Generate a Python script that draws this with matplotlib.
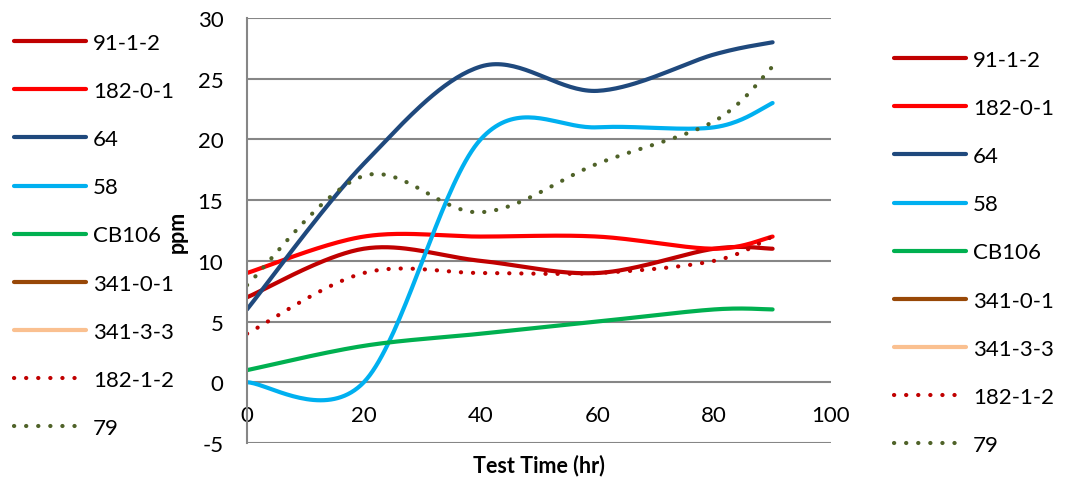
import numpy as np
import matplotlib
matplotlib.use("Agg")
import matplotlib.pyplot as plt

plt.rcParams['font.family'] = ['Lato', 'DejaVu Sans']
plt.rcParams['axes.unicode_minus'] = False

hours = [0, 20, 40, 60, 80, 90]
labels = ["91-1-2", "182-0-1", "64", "58", "CB106", "341-0-1", "341-3-3", "182-1-2", "79"]
s_91_1_2 = [7, 11, 10, 9, 11, 11]
s_182_0_1 = [9, 12, 12, 12, 11, 12]
s_64 = [6, 18, 26, 24, 27, 28]
s_58 = [0, 0, 20, 21, 21, 23]
s_cb106 = [1, 3, 4, 5, 6, 6]
s_341_0_1 = []
s_341_3_3 = []
s_182_1_2 = [4, 9, 9, 9, 10, 12]
s_79 = [8, 17, 14, 18, 21.5, 26]

series = [s_91_1_2, s_182_0_1, s_64, s_58, s_cb106, s_341_0_1, s_341_3_3, s_182_1_2, s_79]
colors = ["#C00000", "#FF0000", "#1F497D", "#00B0F0", "#00B050", "#984807", "#FAC090", "#C00000", "#4F6228"]
dotted = [False] * 7 + [True, True]


def smooth(xs, ys, n=40):
    # bezier segments with control points from neighbouring points
    if len(xs) < 2:
        return np.array(xs, float), np.array(ys, float)
    p = np.column_stack([xs, ys]).astype(float)
    out = []
    t = np.linspace(0, 1, n)[:, None]
    for i in range(len(p) - 1):
        prev = p[i - 1] if i > 0 else p[i]
        nxt = p[i + 2] if i + 2 < len(p) else p[i + 1]
        c1 = p[i] + (p[i + 1] - prev) / 6
        c2 = p[i + 1] - (nxt - p[i]) / 6
        seg = ((1 - t) ** 3 * p[i] + 3 * (1 - t) ** 2 * t * c1
               + 3 * (1 - t) * t ** 2 * c2 + t ** 3 * p[i + 1])
        out.append(seg if i == 0 else seg[1:])
    out = np.vstack(out)
    return out[:, 0], out[:, 1]


fig = plt.figure(figsize=(10.71, 4.81), dpi=100)
ax = fig.add_axes([247 / 1071, 1 - 444 / 481, 584 / 1071, 425 / 481])

handles = []
for vals, name, c, dot in zip(series, labels, colors, dotted):
    xs = hours[:len(vals)]
    sx, sy = smooth(xs, vals)
    if dot:
        ln, = ax.plot(sx, sy, color=c, lw=3, linestyle=(0, (0.05, 2.85)),
                      dash_capstyle='round', label=name)
    else:
        ln, = ax.plot(sx, sy, color=c, lw=3, solid_capstyle='round', label=name)
    handles.append(ln)

ax.set_xlim(0, 100)
ax.set_ylim(-5, 30)
ax.set_xticks(range(0, 101, 20))
ax.set_yticks(range(-5, 31, 5))
ax.yaxis.grid(True, color="#868686", lw=1.5)
ax.set_axisbelow(True)
for s in ["top", "right", "bottom"]:
    ax.spines[s].set_visible(False)
ax.spines["left"].set_color("#868686")
ax.spines["left"].set_linewidth(1.5)
ax.spines["bottom"].set_position(("data", 0))
ax.tick_params(axis="both", length=0, labelsize=16, colors="black")
ax.tick_params(axis="y", pad=17)
ax.tick_params(axis="x", pad=16)

ax.set_xlabel("Test Time (hr)", fontsize=15.5, fontweight="bold")
ax.xaxis.set_label_coords(0.5, -0.05)
ax.xaxis.label.set_verticalalignment("center")
ax.set_ylabel("ppm", fontsize=15.5, fontweight="bold")
ax.yaxis.set_label_coords(-0.12, 0.5)
ax.yaxis.label.set_verticalalignment("center")

leg_kw = dict(frameon=False, fontsize=16, handlelength=3.25, handletextpad=0.3,
              labelspacing=1.265, borderpad=0, borderaxespad=0, loc="upper left")
fig.legend(handles=handles, labels=labels, bbox_to_anchor=(14 / 1071, 1 - 34 / 481), **leg_kw)
fig.legend(handles=handles, labels=labels, bbox_to_anchor=(894 / 1071, 1 - 51 / 481), **leg_kw)

fig.savefig("out.png", dpi=100)
